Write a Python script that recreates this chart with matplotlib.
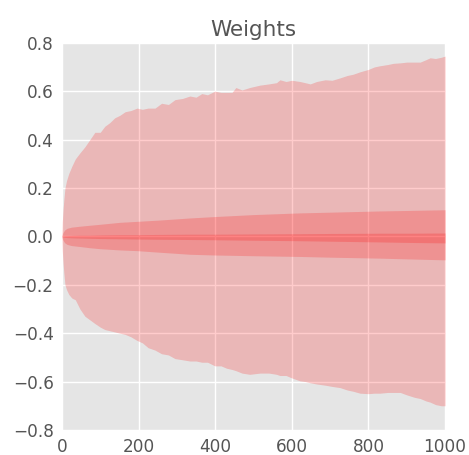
import numpy as np
import matplotlib
matplotlib.use("Agg")
import matplotlib.pyplot as plt

# Outer envelope (max / min)
x_outer = [0, 1, 3, 5, 8, 12, 18, 26, 35, 47, 60, 73, 86, 100, 112, 125, 138, 151, 165, 180,
           196, 210, 225, 243, 260, 278, 295, 315, 334, 350, 365, 380, 399, 415, 430, 444,
           454, 470, 490, 517, 540, 560, 569, 585, 600, 621, 635, 648, 665, 687, 705, 726,
           745, 760, 778, 800, 815, 830, 850, 865, 883, 900, 920, 935, 950, 961, 975, 990, 1000]
upper = [0.0, 0.06, 0.11, 0.15, 0.20, 0.23, 0.26, 0.29, 0.32, 0.345, 0.37, 0.40, 0.43, 0.43,
         0.455, 0.47, 0.49, 0.50, 0.515, 0.52, 0.53, 0.525, 0.53, 0.53, 0.55, 0.545, 0.565,
         0.57, 0.58, 0.575, 0.59, 0.585, 0.60, 0.595, 0.595, 0.595, 0.615, 0.605, 0.615, 0.625,
         0.63, 0.635, 0.647, 0.64, 0.645, 0.64, 0.635, 0.63, 0.64, 0.647, 0.645, 0.655, 0.665,
         0.67, 0.68, 0.69, 0.70, 0.705, 0.71, 0.715, 0.717, 0.72, 0.72, 0.72, 0.73, 0.738,
         0.735, 0.74, 0.745]
lower = [0.0, -0.06, -0.11, -0.15, -0.20, -0.22, -0.24, -0.255, -0.262, -0.30, -0.33, -0.345,
         -0.36, -0.375, -0.385, -0.39, -0.395, -0.40, -0.405, -0.415, -0.43, -0.44, -0.46,
         -0.47, -0.485, -0.49, -0.505, -0.51, -0.515, -0.515, -0.52, -0.52, -0.535, -0.535,
         -0.545, -0.55, -0.555, -0.565, -0.57, -0.565, -0.565, -0.57, -0.575, -0.575, -0.585,
         -0.597, -0.6, -0.605, -0.61, -0.615, -0.62, -0.625, -0.635, -0.64, -0.648, -0.65,
         -0.648, -0.648, -0.645, -0.645, -0.645, -0.655, -0.665, -0.67, -0.68, -0.685, -0.695,
         -0.70, -0.70]

# Middle band
x_mid = [0, 1, 3, 7, 13, 25, 47, 73, 100, 151, 196, 250, 334, 400, 500, 621, 700, 830, 900, 1000]
mid_upper = [0.0, 0.008, 0.016, 0.026, 0.033, 0.038, 0.042, 0.046, 0.05, 0.058, 0.062, 0.067,
             0.076, 0.082, 0.09, 0.097, 0.100, 0.105, 0.107, 0.11]
mid_lower = [0.0, -0.008, -0.016, -0.026, -0.033, -0.038, -0.042, -0.047, -0.051, -0.056,
             -0.059, -0.065, -0.074, -0.077, -0.080, -0.083, -0.086, -0.09, -0.093, -0.097]

# Inner band
inner_upper = [0.0, 0.001, 0.002, 0.003, 0.003, 0.004, 0.005, 0.005, 0.006, 0.007, 0.007,
               0.008, 0.009, 0.009, 0.010, 0.011, 0.012, 0.013, 0.013, 0.014]
inner_lower = [0.0, -0.002, -0.003, -0.004, -0.005, -0.006, -0.007, -0.008, -0.009, -0.010,
               -0.011, -0.012, -0.013, -0.014, -0.016, -0.018, -0.020, -0.023, -0.025, -0.027]

x_ticks = [0, 200, 400, 600, 800, 1000]
y_ticks = [-0.8, -0.6, -0.4, -0.2, 0.0, 0.2, 0.4, 0.6, 0.8]

fig = plt.figure(figsize=(4.69, 4.55), dpi=100)
ax = fig.add_axes([0.132, 0.055, 0.817, 0.851])
ax.set_facecolor("#e5e5e5")
for s in ax.spines.values():
    s.set_visible(False)
ax.grid(True, color="white", linewidth=1.0)
ax.set_axisbelow(True)

ax.fill_between(x_outer, lower, upper, color="red", alpha=0.2, linewidth=0)
ax.fill_between(x_mid, mid_lower, mid_upper, color="red", alpha=0.2, linewidth=0)
ax.fill_between(x_mid, inner_lower, inner_upper, color="red", alpha=0.2, linewidth=0)

ax.set_xlim(0, 1000)
ax.set_ylim(-0.8, 0.8)
ax.set_xticks(x_ticks)
ax.set_yticks(y_ticks)
ax.set_yticklabels([f"{v:.1f}".replace("-", "\u2212") for v in y_ticks])
ax.tick_params(length=0, labelsize=12.2, labelcolor="#555555", pad=6)
ax.set_title("Weights", fontsize=15.5, color="#555555", pad=5)

fig.savefig("out.png", dpi=100)
